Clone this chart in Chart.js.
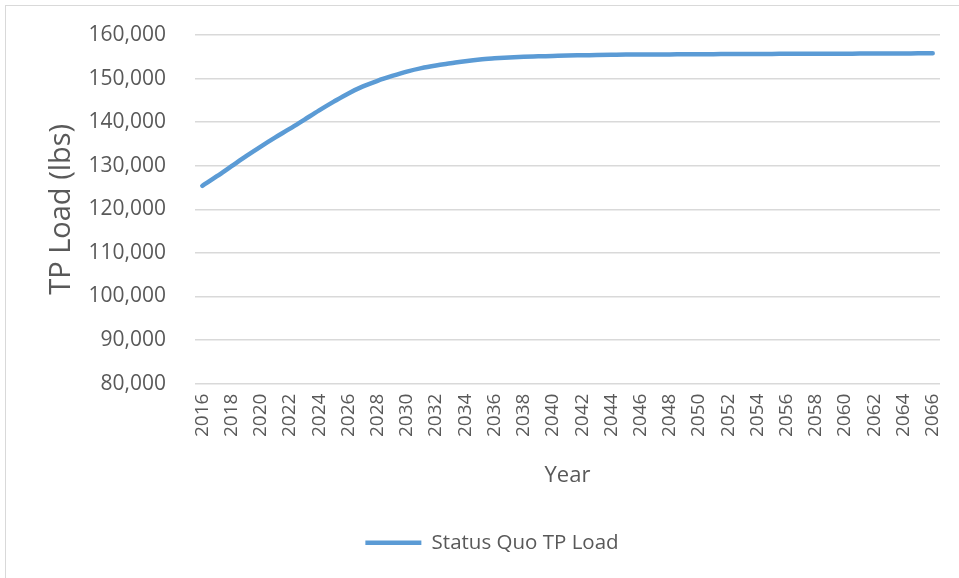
<!DOCTYPE html>
<html>
<head>
<meta charset="utf-8">
<script src="https://cdn.jsdelivr.net/npm/chart.js@4"></script>
<style>
    html, body { margin: 0; padding: 0; background: #ffffff; overflow: hidden; }
    .frame { position: absolute; left: 5px; top: 5px; width: 1000px; height: 1000px; border: 1px solid #d9d9d9; }
    .chart-wrap { position: absolute; left: 0; top: 0; width: 959px; height: 578px; }
</style>
</head>
<body>
<div class="frame"></div>
<div class="chart-wrap"><canvas id="tpLoadChart"></canvas></div>
<script>
// Years on the category axis
const years = [
    '2016', '2017', '2018', '2019', '2020', '2021', '2022', '2023', '2024', '2025',
    '2026', '2027', '2028', '2029', '2030', '2031', '2032', '2033', '2034', '2035',
    '2036', '2037', '2038', '2039', '2040', '2041', '2042', '2043', '2044', '2045',
    '2046', '2047', '2048', '2049', '2050', '2051', '2052', '2053', '2054', '2055',
    '2056', '2057', '2058', '2059', '2060', '2061', '2062', '2063', '2064', '2065',
    '2066'
];

// Status Quo TP Load (lbs)
const statusQuoLoad = [
    125400, 127600, 129900, 132200, 134400, 136500, 138500, 140600, 142700, 144700,
    146600, 148200, 149500, 150600, 151600, 152400, 153000, 153500, 154000, 154400,
    154650, 154850, 155000, 155100, 155200, 155300, 155350, 155400, 155450, 155500,
    155500, 155550, 155550, 155600, 155600, 155600, 155650, 155650, 155650, 155650,
    155700, 155700, 155700, 155700, 155700, 155750, 155750, 155750, 155750, 155800,
    155800
];

const yMin = 80000;
const yMax = 160000;
const yStep = 10000;

const textColor = '#595959';
const gridColor = '#d9d9d9';
const lineColor = '#5b9bd5';

const tpLoadCtx = document.getElementById('tpLoadChart').getContext('2d');
const tpLoadChart = new Chart(tpLoadCtx, {
    type: 'line',
    data: {
        labels: years,
        datasets: [{
            label: 'Status Quo TP Load',
            data: statusQuoLoad,
            borderColor: lineColor,
            backgroundColor: lineColor,
            borderWidth: 4.5,
            borderCapStyle: 'round',
            borderJoinStyle: 'round',
            pointRadius: 0,
            cubicInterpolationMode: 'monotone',
            fill: false
        }]
    },
    options: {
        responsive: true,
        maintainAspectRatio: false,
        animation: false,
        layout: {
            padding: { left: 44, right: 19, top: 35, bottom: 15 }
        },
        plugins: {
            legend: {
                position: 'bottom',
                labels: {
                    usePointStyle: true,
                    pointStyle: 'line',
                    pointStyleWidth: 56,
                    color: textColor,
                    font: { family: 'Open Sans', size: 20.5 },
                    padding: 10
                }
            },
            tooltip: { enabled: false }
        },
        scales: {
            x: {
                offset: true,
                // invisible tick marks keep the label gap without adding side padding
                grid: { display: true, color: 'transparent', tickColor: 'transparent', drawTicks: true, tickLength: 10 },
                border: { display: false },
                ticks: {
                    autoSkip: false,
                    minRotation: 90,
                    maxRotation: 90,
                    padding: 0,
                    color: textColor,
                    font: { family: 'Open Sans', size: 19 },
                    callback: function(value, index) {
                        return index % 2 === 0 ? this.getLabelForValue(value) : '';
                    }
                },
                title: {
                    display: true,
                    text: 'Year',
                    color: textColor,
                    font: { family: 'Open Sans', size: 22 },
                    padding: { top: 25, bottom: 34 }
                }
            },
            y: {
                min: yMin,
                max: yMax,
                grid: { color: gridColor, lineWidth: 1.5, tickColor: 'transparent', drawTicks: true, tickLength: 29 },
                border: { display: false },
                ticks: {
                    stepSize: yStep,
                    padding: 0,
                    color: textColor,
                    font: { family: 'Open Sans', size: 21 },
                    callback: value => value.toLocaleString('en-US')
                },
                title: {
                    display: true,
                    text: 'TP Load (lbs)',
                    color: textColor,
                    font: { family: 'Open Sans', size: 29 },
                    padding: 0
                },
                afterFit: scale => { scale.width = 151; }
            }
        }
    }
});
</script>
</body>
</html>
